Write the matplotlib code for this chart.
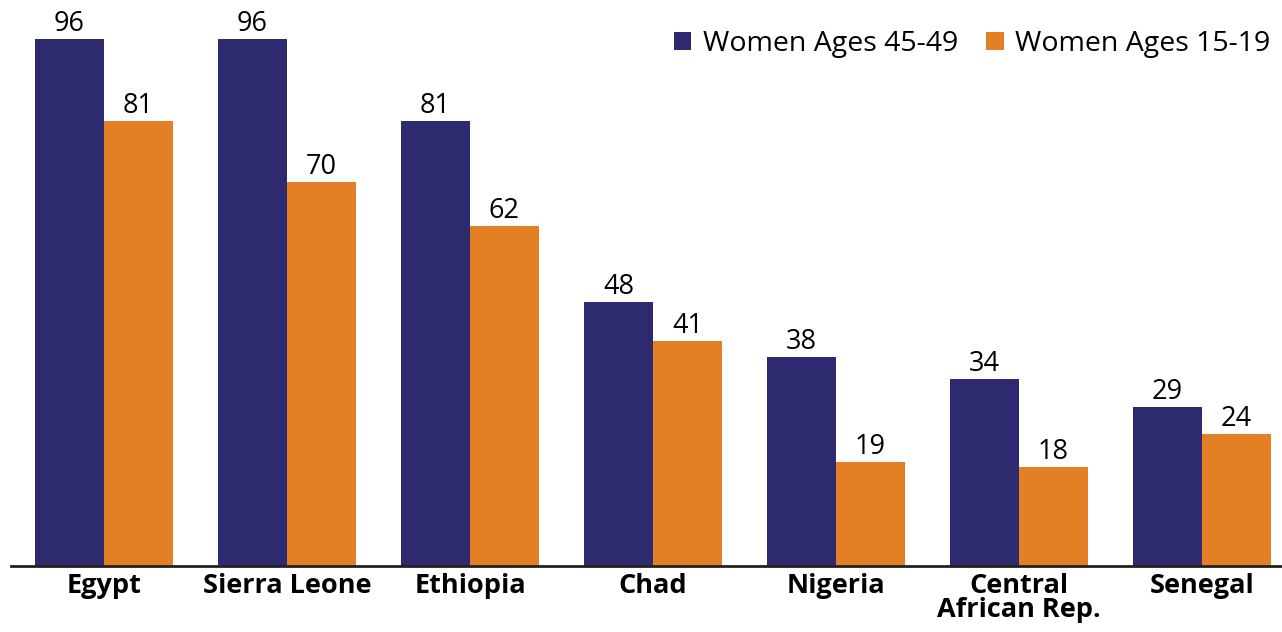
import matplotlib.pyplot as plt
import numpy as np

countries = ['Egypt', 'Sierra Leone', 'Ethiopia', 'Chad', 'Nigeria',
             'Central\nAfrican Rep.', 'Senegal']
older = [96, 96, 81, 48, 38, 34, 29]
younger = [81, 70, 62, 41, 19, 18, 24]
series_names = ['Women Ages 45-49', 'Women Ages 15-19']

blue = '#2E2A6F'
orange = '#E38025'

plt.rcParams['font.family'] = ['Open Sans', 'DejaVu Sans']

fig = plt.figure(figsize=(12.82, 6.32), dpi=100)
ax = fig.add_axes([11 / 1282, 66 / 632, 1 - 11 / 1282, 566 / 632])

x = np.arange(len(countries))
w = 0.377
b1 = ax.bar(x - w / 2, older, w, color=blue, label=series_names[0])
b2 = ax.bar(x + w / 2, younger, w, color=orange, label=series_names[1])

for bars in (b1, b2):
    for bar in bars:
        h = bar.get_height()
        ax.text(bar.get_x() + bar.get_width() / 2, h + 0.2, f'{h:.0f}',
                ha='center', va='bottom', fontsize=19.5, color='black')

ax.set_xlim(-0.508, 6.437)
ax.set_ylim(0, 103.1)
ax.set_xticks(x)
ax.set_xticklabels(countries, fontsize=19.5, fontweight='bold', linespacing=0.9)
ax.tick_params(axis='x', length=0, pad=5)
ax.set_yticks([])
for s in ['top', 'right', 'left']:
    ax.spines[s].set_visible(False)
ax.spines['bottom'].set_linewidth(2)
ax.spines['bottom'].set_color('#222222')

ax.legend(loc='upper right', bbox_to_anchor=(0.991, 0.947), ncol=2, frameon=False,
          fontsize=20.5, handlelength=0.62, handleheight=0.62, handletextpad=0.4,
          columnspacing=1.0, borderaxespad=0, borderpad=0)

fig.savefig('out.png', dpi=100)
